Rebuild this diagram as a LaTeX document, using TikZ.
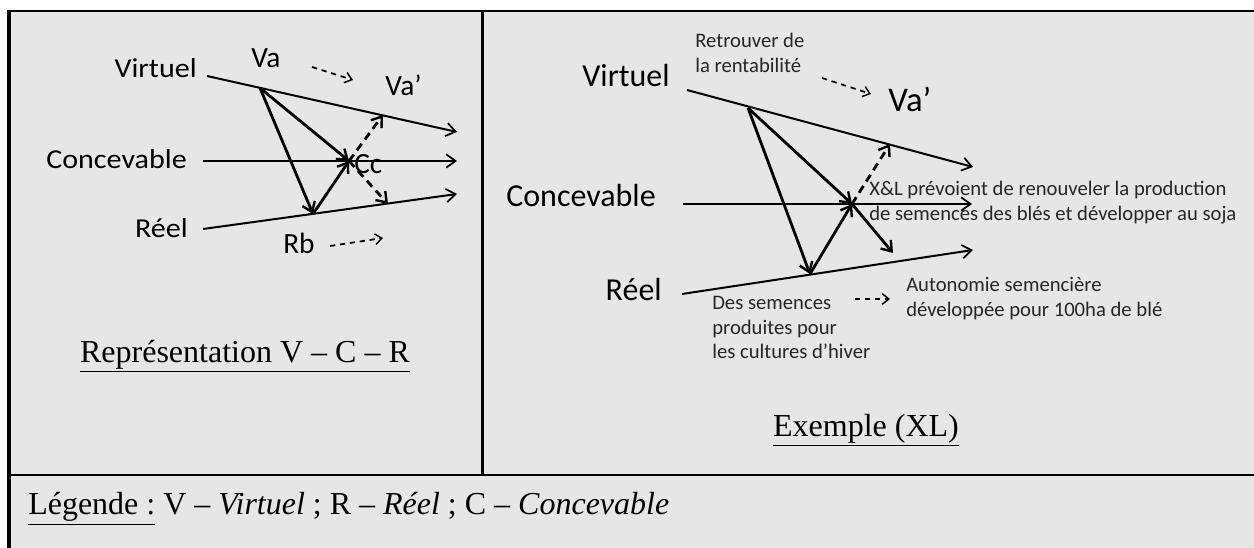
\documentclass[tikz,border=0pt]{standalone}
\usepackage{fontspec}
\setmainfont{Liberation Serif}
\newfontfamily\calfont{Carlito}
\newfontfamily\calwide[FakeStretch=1.1]{Carlito}
\usepackage{xcolor}
\usetikzlibrary{arrows.meta}

\definecolor{cellgray}{HTML}{E6E6E6}
\definecolor{notegray}{HTML}{262626}

\begin{document}
\begin{tikzpicture}[x=0.75pt, y=-0.75pt,
    axis/.style={line width=1.5pt, -{Straight Barb[length=7pt, width=10pt, line width=1.3pt]}},
    vec/.style={line width=2.1pt, -{Straight Barb[length=7pt, width=10pt, line width=1.8pt]}},
    dvec/.style={vec, dash pattern=on 6pt off 4pt},
    hint/.style={line width=1.3pt, dash pattern=on 4pt off 3.5pt, -{Straight Barb[length=5pt, width=8pt, line width=1.1pt]}},
    axlbl/.style={inner sep=0pt, font=\calwide\fontsize{20.5pt}{24pt}\selectfont},
    ptlbl/.style={inner sep=0pt, font=\calfont\fontsize{22pt}{26pt}\selectfont},
    bigaxlbl/.style={inner sep=0pt, font=\calfont\fontsize{24pt}{28pt}\selectfont},
    note/.style={inner sep=0pt, align=left, text=notegray, font=\calfont\fontsize{15.5pt}{18.5pt}\selectfont},
    title/.style={inner sep=0pt, font=\fontsize{24pt}{28pt}\selectfont}]

  \useasboundingbox (0,0) rectangle (1254,548);

  % table cells and rules
  \fill[cellgray] (9,11) rectangle (1254,548);
  \draw[line width=2pt] (7,11) -- (1254,11);
  \draw[line width=2.6pt] (9,10) -- (9,548);
  \draw[line width=2.2pt] (482.5,11) -- (482.5,475);
  \draw[line width=2pt] (9,475) -- (1254,475);

  % ---- left cell: Representation V-C-R ----
  \node[axlbl, anchor=base east] (lVirt) at (197,78) {Virtuel};
  \node[axlbl, anchor=base east] (lConc) at (187,169) {Concevable};
  \node[axlbl, anchor=base east] (lReel) at (188,238) {Réel};

  \coordinate (lV0) at (207,76);  \coordinate (lV1) at (457,132);
  \coordinate (lC0) at (203,161); \coordinate (lC1) at (457,161);
  \coordinate (lR0) at (203,229); \coordinate (lR1) at (457,194);
  \draw[axis] (lV0) -- (lV1);
  \draw[axis] (lC0) -- (lC1);
  \draw[axis] (lR0) -- (lR1);

  % triangle Va - Rb - Cc
  \coordinate (lA) at (260,88);
  \coordinate (lB) at (313,214);
  \coordinate (lC) at (349,161);
  \coordinate (lUp) at (383,115);
  \coordinate (lDn) at (388,204);
  \draw[vec] (lA) -- (lB);
  \draw[vec] (lA) -- (lC);
  \draw[vec] (lB) -- (lC);
  \draw[dvec] (lC) -- (lUp);
  \draw[dvec] (lC) -- (lDn);

  \node[ptlbl, anchor=base] (lVa) at (266,68) {Va};
  \node[ptlbl, anchor=base west] (lVap) at (385,96) {Va’};
  \node[ptlbl, anchor=base west] (lCc) at (354,174) {Cc};
  \node[ptlbl, anchor=base west] (lRb) at (283,254) {Rb};
  \coordinate (lh1) at (312,67);  \coordinate (lh2) at (353,80);
  \coordinate (lh3) at (330,246); \coordinate (lh4) at (383,238);
  \draw[hint] (lh1) -- (lh2);
  \draw[hint] (lh3) -- (lh4);

  \node[title, anchor=base] (lTitle) at (245,363) {\underline{Représentation V – C – R}};

  % ---- right cell: Exemple (XL) ----
  \node[bigaxlbl, anchor=base east] (rVirt) at (670,87) {Virtuel};
  \node[bigaxlbl, anchor=base east] (rConc) at (656,207) {Concevable};
  \node[bigaxlbl, anchor=base east] (rReel) at (662,301) {Réel};

  \coordinate (rV0) at (687,90);  \coordinate (rV1) at (973,167);
  \coordinate (rC0) at (683,204); \coordinate (rC1) at (972,204);
  \coordinate (rR0) at (682,294); \coordinate (rR1) at (973,250);
  \draw[axis] (rV0) -- (rV1);
  \draw[axis] (rC0) -- (rC1);
  \draw[axis] (rR0) -- (rR1);

  \coordinate (rA) at (748,108);
  \coordinate (rB) at (810,274);
  \coordinate (rC) at (852,204);
  \coordinate (rUp) at (890,144);
  \coordinate (rDn) at (893,253);
  \draw[vec] (rA) -- (rB);
  \draw[vec] (rA) -- (rC);
  \draw[vec] (rB) -- (rC);
  \draw[dvec] (rC) -- (rUp);
  \draw[vec] (rC) -- (rDn);

  \node[note, anchor=north west] (rRetr) at (695,33) {Retrouver de\\la rentabilité};
  \node[bigaxlbl, anchor=base west, font=\calfont\fontsize{26pt}{30pt}\selectfont] (rVap) at (888,112) {Va’};
  \coordinate (rh1) at (822,78);  \coordinate (rh2) at (871,94);
  \draw[hint] (rh1) -- (rh2);

  \node[note, anchor=north west] (rXL) at (869,181) {X\&L prévoient de renouveler la production\\de semences des blés et développer au soja};
  \node[note, anchor=north west] (rSem) at (712,296) {Des semences\\produites pour\\les cultures d’hiver};
  \node[note, anchor=north west] (rAuto) at (906,277) {Autonomie semencière\\développée pour 100ha de blé};
  \coordinate (rh3) at (855,299); \coordinate (rh4) at (890,299);
  \draw[hint] (rh3) -- (rh4);

  \node[title, anchor=base] (rTitle) at (866,437) {\underline{Exemple (XL)}};

  % ---- bottom row: legend ----
  \node[title, anchor=base west] (legend) at (28,515) {\underline{Légende :} V – \textit{Virtuel} ; R – \textit{Réel} ; C – \textit{Concevable}};
\end{tikzpicture}
\end{document}
